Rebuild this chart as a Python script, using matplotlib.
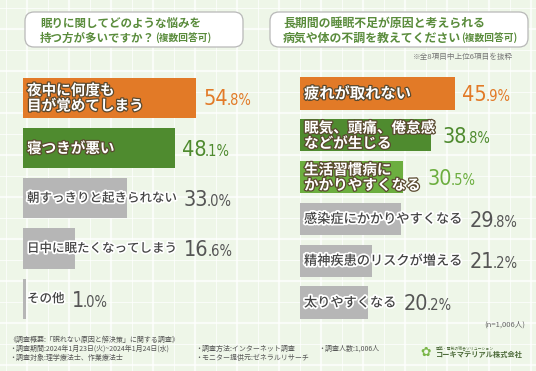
import numpy as np
import matplotlib
matplotlib.use('Agg')
import matplotlib.pyplot as plt
import matplotlib.patheffects as pe
from matplotlib import transforms
from matplotlib import font_manager as fm
from matplotlib.patches import FancyBboxPatch

plt.rcParams['font.family'] = ['Noto Sans CJK JP', 'DejaVu Sans']

# --- data ---
left_labels = ['夜中に何度も\n目が覚めてしまう', '寝つきが悪い', '朝すっきりと起きられない',
               '日中に眠たくなってしまう', 'その他']
left_values = [54.8, 48.1, 33.0, 16.6, 1.0]

right_labels = ['疲れが取れない', '眠気、頭痛、倦怠感\nなどが生じる', '生活習慣病に\nかかりやすくなる',
                '感染症にかかりやすくなる', '精神疾患のリスクが増える', '太りやすくなる']
right_values = [45.9, 38.8, 30.5, 29.8, 21.2, 20.2]

n_total = 1006

# --- styles ---
ORANGE = '#e27a27'
DGREEN = '#4f8b2f'
LGREEN = '#6cae3f'
GREY = '#b6b6b6'
TITLE_GREEN = '#5a8c3c'

left_colors = [ORANGE, DGREEN, GREY, GREY, GREY]
left_vcolors = [ORANGE, DGREEN, '#555555', '#555555', '#555555']
left_fs = [10.5, 10.5, 9, 9, 9]
right_colors = [ORANGE, DGREEN, LGREEN, GREY, GREY, GREY]
right_vcolors = [ORANGE, DGREEN, LGREEN, '#555555', '#555555', '#555555']
right_fs = [11, 10.5, 10.5, 9.5, 9.5, 9.5]

# narrow font for the percentages, whichever is installed
fonts = fm.fontManager.ttflist
names = {f.name for f in fonts}
if 'Liberation Sans Narrow' in names:
    numfont = dict(family=['Liberation Sans Narrow'])
elif any(f.name == 'DejaVu Sans' and f.stretch == 'condensed' for f in fonts):
    numfont = dict(family=['DejaVu Sans'], fontstretch='condensed')
elif 'Roboto Condensed' in names:
    numfont = dict(family=['Roboto Condensed'])
else:
    numfont = dict(family=['Roboto'], fontweight='medium')

W, H = 536, 371
fig = plt.figure(figsize=(W / 100, H / 100), dpi=100)
fig.patch.set_facecolor('#eef6e8')

bg = fig.add_axes([0, 0, 1, 1])
bg.set_xlim(0, W)
bg.set_ylim(H, 0)
bg.axis('off')
# plaid background
for x in np.arange(6, W, 21):
    bg.axvline(x, color='white', lw=1.6 if int(x) % 2 else 0.8, alpha=0.7, zorder=0)
for y in np.arange(8, H, 21):
    bg.axhline(y, color='white', lw=1.6 if int(y) % 2 else 0.8, alpha=0.7, zorder=0)

# title boxes
for x0, w in [(25, 218), (270, 258)]:
    bg.add_patch(FancyBboxPatch((x0, 12), w, 35, boxstyle='round,pad=0,rounding_size=9',
                                fc='white', ec='#b8b8b8', lw=0.9, zorder=2))

bg.text(40, 23, '眠りに関してどのような悩みを', fontsize=8.3, fontweight='bold',
        color=TITLE_GREEN, va='center', zorder=3)
t2 = bg.text(40, 38, '持つ方が多いですか？', fontsize=8.3, fontweight='bold',
             color=TITLE_GREEN, va='center', zorder=3)
bg.text(283, 23, '長期間の睡眠不足が原因と考えられる', fontsize=8.6, fontweight='bold',
        color=TITLE_GREEN, va='center', zorder=3)
t4 = bg.text(283, 38, '病気や体の不調を教えてください', fontsize=8.6, fontweight='bold',
             color=TITLE_GREEN, va='center', zorder=3)
bg.text(513, 57, '※全8項目中上位6項目を抜粋', fontsize=5.5, color='#777777',
        ha='right', va='center', zorder=3)
bg.text(525, 325, f'(n={n_total:,}人)', fontsize=5.5, color='#666666',
        ha='right', va='center', zorder=3)

# footer
foot = '#555555'
bg.text(9, 340, '《調査概要:「眠れない原因と解決策」に関する調査》', fontsize=5, color=foot, va='center')
bg.text(9, 349, '・調査期間:2024年1月23日(火)~2024年1月24日(水)', fontsize=5, color=foot, va='center')
bg.text(9, 358, '・調査対象:理学療法士、作業療法士', fontsize=5, color=foot, va='center')
bg.text(195, 349, '・調査方法:インターネット調査', fontsize=5, color=foot, va='center')
bg.text(195, 358, '・モニター提供元:ゼネラルリサーチ', fontsize=5, color=foot, va='center')
bg.text(318, 349, f'・調査人数:{n_total:,}人', fontsize=5, color=foot, va='center')
bg.text(426, 352, '✿', fontsize=9, color='#7ab648', ha='center', va='center',
        family=['DejaVu Sans'])
bg.text(436, 348, '建築・電気の総合ソリューション', fontsize=2.8, color='#4d6b3a', va='center')
bg.text(436, 354, 'コーキマテリアル株式会社', fontsize=5.2, color='#4d6b3a',
        fontweight='bold', va='center')


def px_axes(x0, x1, y0, y1):
    return fig.add_axes([x0 / W, 1 - y1 / H, (x1 - x0) / W, (y1 - y0) / H])


def draw_panel(ax, labels, values, colors, fsizes, height):
    ypos = np.arange(len(values))
    ax.barh(ypos, values, height=height, color=colors, zorder=2)
    ax.set_ylim(len(values) - 0.5, -0.5)
    ax.axis('off')
    tr = transforms.offset_copy(ax.transData, fig=fig, x=4, y=0, units='dots')
    texts = []
    for i, (lab, c, fs) in enumerate(zip(labels, colors, fsizes)):
        if c == GREY:
            t = ax.text(0, i, lab, transform=tr, fontsize=fs, fontweight='medium',
                        color='#444444', va='center', ha='left', linespacing=0.95,
                        zorder=3, clip_on=False,
                        path_effects=[pe.withStroke(linewidth=2.5, foreground='white')])
        else:
            t = ax.text(0, i, lab, transform=tr, fontsize=fs, fontweight='bold',
                        color='white', va='center', ha='left', linespacing=0.95,
                        zorder=3, clip_on=False,
                        path_effects=[pe.withStroke(linewidth=1.8, foreground='#5a4a30')])
        texts.append(t)
    return texts


axL = px_axes(23, 268, 72.5, 324)
axL.set_xlim(0, 245 / 3.16)
axR = px_axes(300, 536, 72.5, 323.5)
axR.set_xlim(0, 236 / 3.38)

textsL = draw_panel(axL, left_labels, left_values, left_colors, left_fs, 0.8)
textsR = draw_panel(axR, right_labels, right_values, right_colors, right_fs, 0.77)

fig.canvas.draw()
r = fig.canvas.get_renderer()

# "(複数回答可)" suffixes
for t in (t2, t4):
    bb = t.get_window_extent(r)
    x, y = bg.transData.inverted().transform((bb.x1, (bb.y0 + bb.y1) / 2))
    bg.text(x, y, '(複数回答可)', fontsize=7, fontweight='bold', color=TITLE_GREEN,
            va='center', zorder=3)

BIG, SMALL = 15.5, 10.5
for ax, texts, values, vcolors in [(axL, textsL, left_values, left_vcolors),
                                   (axR, textsR, right_values, right_vcolors)]:
    inv = ax.transData.inverted()
    for i, (t, v, vc) in enumerate(zip(texts, values, vcolors)):
        bb = t.get_window_extent(r)
        bx, cy = ax.transData.transform((v, i))
        xd = max(bb.x1, bx) + 7
        base = cy - BIG * 0.72 * 100 / 72 / 2
        ip, dp = f'{v:.1f}'.split('.')
        x, y = inv.transform((xd, base))
        tb = ax.text(x, y, ip, fontsize=BIG, color=vc, va='baseline', ha='left',
                     clip_on=False, **numfont)
        bb2 = tb.get_window_extent(r)
        x2, _ = inv.transform((bb2.x1 - 1.5, base))
        ax.text(x2, y, f'.{dp}%', fontsize=SMALL, color=vc, va='baseline', ha='left',
                clip_on=False, **numfont)

fig.savefig('out.png', dpi=100, facecolor=fig.get_facecolor())
